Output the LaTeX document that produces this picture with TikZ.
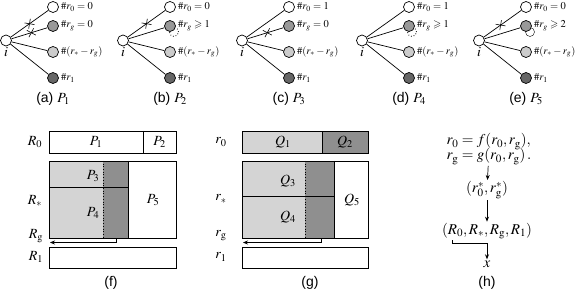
\documentclass[tikz,border=0pt]{standalone}
\usepackage{mathptmx}
\usepackage{amssymb}
\usepackage{fontspec}
\setmainfont{Liberation Serif}
\setsansfont{Liberation Sans}
\usetikzlibrary{arrows.meta, shapes.misc, backgrounds, positioning}

\definecolor{lightfill}{gray}{0.83}
\definecolor{darkfill}{gray}{0.56}
\definecolor{palenode}{gray}{0.8}
\definecolor{midnode}{gray}{0.6}
\definecolor{darknode}{gray}{0.4}

\tikzset{
  vtx/.style={circle, draw, line width=0.7pt, minimum size=11pt, inner sep=0pt},
  cnt/.style={anchor=west, inner sep=0.8pt, font=\fontsize{10.5}{12}\selectfont},
  cut/.style={cross out, draw, sloped, minimum size=6.5pt, inner sep=0pt, line width=0.6pt},
  capt/.style={font=\fontsize{14}{16}\selectfont},
  lbl/.style={font=\fontsize{14}{16}\selectfont},
  eqn/.style={font=\fontsize{15}{17}\selectfont, inner sep=1pt},
}

\begin{document}
\begin{tikzpicture}[x=1pt, y=-1pt, >={Stealth[length=5pt, width=4pt]}, line width=0.7pt]
    \useasboundingbox (0,0) rectangle (575,291);
    % panels (a)--(e)
    \foreach \k/\px/\za/\ga/\lt in {1/6/{=0}/{=0}/a, 2/123/{=0}/{\geqslant 1}/b, 3/242/{=1}/{=0}/c, 4/362/{=1}/{\geqslant 1}/d, 5/479/{=0}/{\geqslant 2}/e}{
        \node[vtx] (i\k) at (\px,40.5) {};
        \node[lbl, below=-3pt of i\k] (il\k) {$i$};
        \node[vtx] (z\k) at (\px+47,7) {};
        \node[vtx, fill=midnode] (g\k) at (\px+47,26) {};
        \node[vtx, fill=palenode] (s\k) at (\px+47,52) {};
        \node[vtx, fill=darknode] (o\k) at (\px+47,78) {};
        \foreach \n in {z,g,s,o} \draw (i\k) -- (\n\k);
        \node[cnt] (zl\k) at ([xshift=1pt]z\k.east) {$\#r_0\za$};
        \node[cnt] (gl\k) at ([xshift=1pt]g\k.east) {$\#r_g\ga$};
        \node[cnt] (sl\k) at ([xshift=1pt]s\k.east) {$\#(r_* - r_g)$};
        \node[cnt] (ol\k) at ([xshift=1pt]o\k.east) {$\#r_1$};
        \node[capt] (cap\k) at (\px+47,99) {\sffamily(\lt)\;$P_\k$};
    }
    \path (i1) -- (z1) node[cut, pos=.5] {};
    \path (i1) -- (g1) node[cut, pos=.55] {};
    \path (i2) -- (z2) node[cut, pos=.5] {};
    \path (i3) -- (g3) node[cut, pos=.55] {};
    \path (i5) -- (z5) node[cut, pos=.45] {};
    \begin{scope}[on background layer]
        \draw[dotted, line width=0.8pt] ([shift={(4,6)}]g2.center) circle[radius=4.5pt];
        \draw[dotted, line width=0.8pt] ([shift={(3,6)}]g4.center) circle[radius=4.5pt];
        \draw ([shift={(4,6)}]g5.center) circle[radius=4.5pt];
    \end{scope}

    % panel (f)
    \draw (49,131) rectangle (176,153);
    \draw (143,131) -- (143,153);
    \fill[lightfill] (49,161) rectangle (103,238);
    \fill[darkfill] (103,161) rectangle (128,238);
    \draw[dotted] (103,161) -- (103,238);
    \draw (49,187) -- (128,187);
    \draw (128,161) -- (128,238);
    \draw (49,161) rectangle (176,238);
    \draw (49,247) rectangle (176,268);
    \node[lbl] (p1) at (96,142) {$P_1$};
    \node[lbl] (p2) at (159.5,142) {$P_2$};
    \node[lbl] (p3) at (93,176) {$P_3$};
    \node[lbl] (p4) at (93,213) {$P_4$};
    \node[lbl] (p5) at (153,200) {$P_5$};
    \node[lbl] (fR0) at (35,142) {$R_0$};
    \node[lbl] (fRs) at (35,201) {$R_*$};
    \node[lbl] (fRg) at (36,236) {$R_{\mathrm{g}}$};
    \node[lbl] (fR1) at (36,257) {$R_1$};
    \coordinate (fgtop) at (116,238);
    \coordinate (fgend) at (50,242.5);
    \draw[->, line width=0.5pt] (fgtop) |- (fgend);
    \node[capt] (capf) at (111,283) {\sffamily(f)};

    % panel (g)
    \filldraw[fill=lightfill] (242,131) rectangle (322,153);
    \filldraw[fill=darkfill] (322,131) rectangle (368,153);
    \fill[lightfill] (242,161) rectangle (305,238);
    \fill[darkfill] (305,161) rectangle (334,238);
    \draw[dotted] (305,161) -- (305,238);
    \draw (242,196) -- (334,196);
    \draw (334,161) -- (334,238);
    \draw (242,161) rectangle (368,238);
    \draw (242,247) rectangle (368,268);
    \node[lbl] (q1) at (283,142) {$Q_1$};
    \node[lbl] (q2) at (345,142) {$Q_2$};
    \node[lbl] (q3) at (288,181) {$Q_3$};
    \node[lbl] (q4) at (288,217) {$Q_4$};
    \node[lbl] (q5) at (352,200) {$Q_5$};
    \node[lbl] (gr0) at (221,142) {$r_0$};
    \node[lbl] (grs) at (221,199) {$r_*$};
    \node[lbl] (grg) at (221,236) {$r_{\mathrm{g}}$};
    \node[lbl] (gr1) at (221,257) {$r_1$};
    \coordinate (ggtop) at (321,238);
    \coordinate (ggend) at (243,242.5);
    \draw[->, line width=0.5pt] (ggtop) |- (ggend);
    \node[capt] (capg) at (310,283) {\sffamily(g)};

    % panel (h)
    \node[eqn, align=left] (eqs) at (489,149) {$r_0 = f(r_0, r_{\mathrm{g}}),$\\[-2pt] $r_{\mathrm{g}} = g(r_0, r_{\mathrm{g}})\,.$};
    \node[eqn] (fix) at (487,190) {$(r_0^*, r_{\mathrm{g}}^*)$};
    \node[eqn] (tup) at (487,231) {$(R_0, R_*, R_{\mathrm{g}}, R_1)$};
    \node[eqn] (xv) at (487,264) {$x$};
    \draw[->] (eqs) -- (fix);
    \draw[->] (fix) -- (tup);
    \coordinate (r0foot) at (452,240);
    \draw[->] (r0foot) -- ++(0,3) -| (xv);
    \node[capt] (caph) at (487,283) {\sffamily(h)};
\end{tikzpicture}
\end{document}
